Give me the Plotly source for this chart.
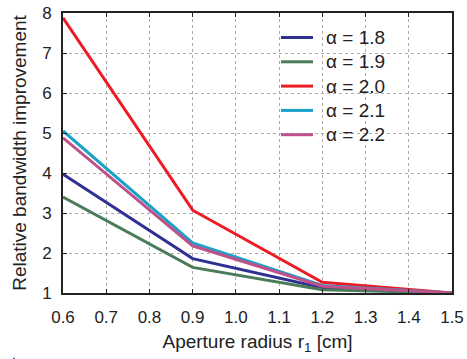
import plotly.graph_objects as go

x_vals = [0.6, 0.9, 1.2, 1.5]
alpha_labels = ["α = 1.8", "α = 1.9", "α = 2.0", "α = 2.1", "α = 2.2"]
y_18 = [3.97, 1.86, 1.13, 1.0]
y_19 = [3.40, 1.64, 1.08, 1.0]
y_20 = [7.88, 3.07, 1.27, 1.0]
y_21 = [5.05, 2.25, 1.19, 1.0]
y_22 = [4.88, 2.18, 1.17, 1.0]
series = [y_18, y_19, y_20, y_21, y_22]
colors = ["#2e3192", "#4a7c5a", "#ed1c24", "#1ba1c8", "#c0508a"]

fig = go.Figure()
for lab, ys, c in zip(alpha_labels, series, colors):
    fig.add_trace(go.Scatter(x=x_vals, y=ys, mode="lines", name=lab,
                             showlegend=False,
                             line=dict(color=c, width=3)))

font_family = "Liberation Sans, Arial, sans-serif"
axis_common = dict(
    showline=True, linecolor="#222", linewidth=2, mirror="ticks",
    ticks="inside", ticklen=4, tickcolor="#222", automargin=False,
    showgrid=True, gridcolor="#aaa", griddash="dot", gridwidth=1,
    zeroline=False, tickfont=dict(size=17, color="#222", family=font_family),
)

# plot-area geometry (pixels)
L, T, W, H = 63, 13, 389, 280
fig.update_layout(
    width=467, height=359,
    margin=dict(l=L, r=467 - L - W, t=T, b=359 - T - H),
    paper_bgcolor="white", plot_bgcolor="white",
    font=dict(family=font_family, color="#222"),
    xaxis=dict(range=[0.6, 1.5], dtick=0.1, tickformat=".1f",
               ticklabelstandoff=8,
               title=dict(text="Aperture radius r<sub>1</sub> [cm]",
                          font=dict(size=19), standoff=8),
               **axis_common),
    yaxis=dict(range=[1, 8], dtick=1, ticklabelstandoff=6,
               title=dict(text="Relative bandwidth improvement",
                          font=dict(size=19), standoff=10),
               **axis_common),
    showlegend=False,
)

# manual legend (tighter row spacing than plotly's built-in legend)
def px_x(px):
    return (px - L) / W

def px_y(py):
    return (T + H - py) / H

row0, row_gap = 37.5, 24.3
for i, (lab, c) in enumerate(zip(alpha_labels, colors)):
    yc = px_y(row0 + i * row_gap)
    fig.add_shape(type="line", xref="paper", yref="paper",
                  x0=px_x(281), x1=px_x(313), y0=yc, y1=yc,
                  line=dict(color=c, width=3))
    fig.add_annotation(text=lab, xref="paper", yref="paper",
                       x=px_x(324), y=yc, xanchor="left", yanchor="middle",
                       showarrow=False, font=dict(size=19, color="#222"))

fig.add_annotation(text="▲", x=px_x(14), y=px_y(353), xref="paper", yref="paper",
                   showarrow=False, font=dict(size=8, color="black"),
                   xanchor="center", yanchor="top")
fig.write_html("out.html")
